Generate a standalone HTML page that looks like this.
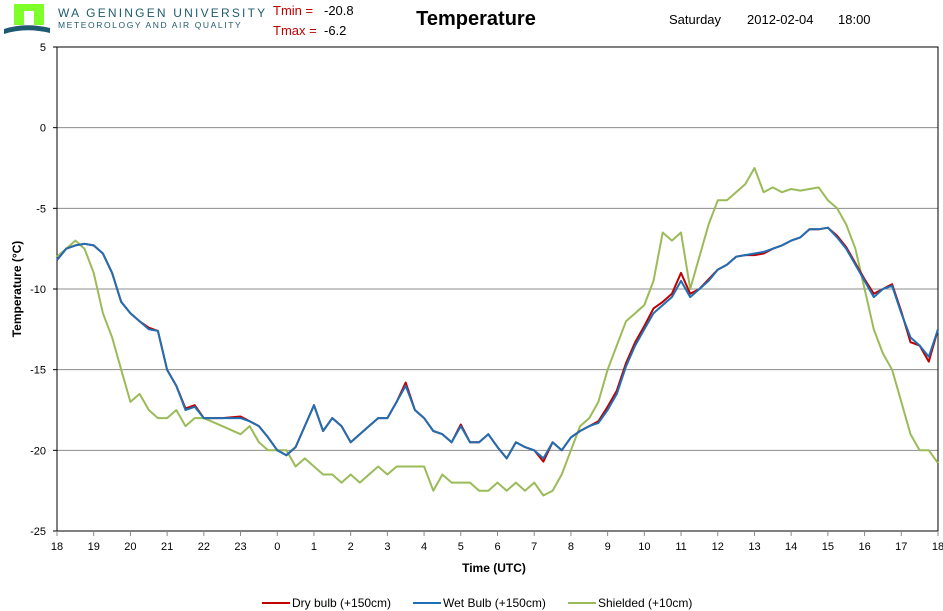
<!DOCTYPE html>
<html><head><meta charset="utf-8"><style>
body{margin:0;background:#fff;font-family:"Liberation Sans",sans-serif;}
#wrap{position:relative;width:943px;height:611px;overflow:hidden;}
</style></head><body>
<div id="wrap">
<svg id="chart" width="943" height="611" xmlns="http://www.w3.org/2000/svg">
<g>
<rect x="14" y="4" width="30" height="21" fill="#7fff2a"/>
<rect x="24" y="11" width="10" height="14" fill="#fff"/>
<path d="M4 29 Q25 22 50 28 L50 33 Q25 27 4 34 Z" fill="#1f5a70"/>
</g>
<text x="58" y="17" font-size="12" fill="#1f5a70" letter-spacing="2.2">WA GENINGEN UNIVERSITY</text>
<text x="58" y="28" font-size="8.5" fill="#1f5a70" letter-spacing="1.6">METEOROLOGY AND AIR QUALITY</text>
<text x="273" y="15" font-size="13" fill="#c00000">Tmin =</text>
<text x="324" y="15" font-size="13" fill="#000">-20.8</text>
<text x="273" y="35" font-size="13" fill="#c00000">Tmax =</text>
<text x="324" y="35" font-size="13" fill="#000">-6.2</text>
<text x="476" y="25" font-size="20" font-weight="bold" text-anchor="middle">Temperature</text>
<text x="669" y="24" font-size="13">Saturday</text>
<text x="747" y="24" font-size="13">2012-02-04</text>
<text x="838" y="24" font-size="13">18:00</text>
<g id="grid"></g><g id="axes"></g><g id="series"></g>
<text x="494" y="572" font-size="12" font-weight="bold" text-anchor="middle">Time (UTC)</text>
<text transform="translate(21,289) rotate(-90)" font-size="12" font-weight="bold" text-anchor="middle">Temperature (°C)</text>
<g>
<line x1="262" y1="603" x2="290" y2="603" stroke="#c00000" stroke-width="2"/>
<text x="292" y="607" font-size="12">Dry bulb (+150cm)</text>
<line x1="413" y1="603" x2="441" y2="603" stroke="#1f6fb4" stroke-width="2"/>
<text x="443" y="607" font-size="12">Wet Bulb (+150cm)</text>
<line x1="568" y1="603" x2="596" y2="603" stroke="#9bbb59" stroke-width="2"/>
<text x="598" y="607" font-size="12">Shielded (+10cm)</text>
</g>
</svg>
</div>
<script>
const xTickLabels=["18","19","20","21","22","23","0","1","2","3","4","5","6","7","8","9","10","11","12","13","14","15","16","17","18"];
const yTicks=[5,0,-5,-10,-15,-20,-25];
const times=[0,0.25,0.5,0.75,1,1.25,1.5,1.75,2,2.25,2.5,2.75,3,3.25,3.5,3.75,4,4.5,5,5.25,5.5,5.75,6,6.25,6.5,6.75,7,7.25,7.5,7.75,8,8.25,8.5,8.75,9,9.25,9.5,9.75,10,10.25,10.5,10.75,11,11.25,11.5,11.75,12,12.25,12.5,12.75,13,13.25,13.5,13.75,14,14.25,14.5,14.75,15,15.25,15.5,15.75,16,16.25,16.5,16.75,17,17.25,17.5,17.75,18,18.25,18.5,18.75,19,19.25,19.5,19.75,20,20.25,20.5,20.75,21,21.25,21.5,21.75,22,22.25,22.5,22.75,23,23.25,23.5,23.75,24];
const wetBulb=[-8.2,-7.5,-7.3,-7.2,-7.3,-7.8,-9.0,-10.8,-11.5,-12.0,-12.5,-12.6,-15.0,-16.0,-17.5,-17.3,-18.0,-18.0,-18.0,-18.2,-18.5,-19.2,-20.0,-20.3,-19.8,-18.5,-17.2,-18.8,-18.0,-18.5,-19.5,-19.0,-18.5,-18.0,-18.0,-17.0,-16.0,-17.5,-18.0,-18.8,-19.0,-19.5,-18.5,-19.5,-19.5,-19.0,-19.8,-20.5,-19.5,-19.8,-20.0,-20.5,-19.5,-20.0,-19.2,-18.8,-18.5,-18.3,-17.5,-16.5,-14.8,-13.5,-12.5,-11.5,-11.0,-10.5,-9.5,-10.5,-10.0,-9.5,-8.8,-8.5,-8.0,-7.9,-7.8,-7.7,-7.5,-7.3,-7.0,-6.8,-6.3,-6.3,-6.2,-6.8,-7.5,-8.5,-9.5,-10.5,-10.0,-9.8,-11.5,-13.0,-13.5,-14.2,-12.5];
const dryBulb=[-8.2,-7.5,-7.3,-7.2,-7.3,-7.8,-9.0,-10.8,-11.5,-12.0,-12.4,-12.6,-15.0,-16.0,-17.4,-17.2,-18.0,-18.0,-17.9,-18.2,-18.5,-19.2,-20.0,-20.3,-19.8,-18.5,-17.2,-18.8,-18.0,-18.5,-19.5,-19.0,-18.5,-18.0,-18.0,-17.0,-15.8,-17.5,-18.0,-18.8,-19.0,-19.5,-18.4,-19.5,-19.5,-19.0,-19.8,-20.5,-19.5,-19.8,-20.0,-20.7,-19.5,-20.0,-19.2,-18.8,-18.5,-18.2,-17.3,-16.3,-14.6,-13.3,-12.3,-11.2,-10.8,-10.3,-9.0,-10.3,-10.0,-9.4,-8.8,-8.5,-8.0,-7.9,-7.9,-7.8,-7.5,-7.3,-7.0,-6.8,-6.3,-6.3,-6.2,-6.7,-7.4,-8.4,-9.4,-10.3,-10.0,-9.7,-11.4,-13.3,-13.5,-14.5,-12.5];
const shielded=[-8.0,-7.5,-7.0,-7.5,-9.0,-11.5,-13.0,-15.0,-17.0,-16.5,-17.5,-18.0,-18.0,-17.5,-18.5,-18.0,-18.0,-18.5,-19.0,-18.5,-19.5,-20.0,-20.0,-20.0,-21.0,-20.5,-21.0,-21.5,-21.5,-22.0,-21.5,-22.0,-21.5,-21.0,-21.5,-21.0,-21.0,-21.0,-21.0,-22.5,-21.5,-22.0,-22.0,-22.0,-22.5,-22.5,-22.0,-22.5,-22.0,-22.5,-22.0,-22.8,-22.5,-21.5,-20.0,-18.5,-18.0,-17.0,-15.0,-13.5,-12.0,-11.5,-11.0,-9.5,-6.5,-7.0,-6.5,-10.0,-8.0,-6.0,-4.5,-4.5,-4.0,-3.5,-2.5,-4.0,-3.7,-4.0,-3.8,-3.9,-3.8,-3.7,-4.5,-5.0,-6.0,-7.5,-10.0,-12.5,-14.0,-15.0,-17.0,-19.0,-20.0,-20.0,-20.8];
const NS="http://www.w3.org/2000/svg";
const L=57,R=938,T=47,B=531;
const xs=t=>L+(R-L)*t/24;
const ys=v=>T+(B-T)*(5-v)/30;
function mk(tag,attrs,parent){const e=document.createElementNS(NS,tag);for(const k in attrs)e.setAttribute(k,attrs[k]);parent.appendChild(e);return e;}
const grid=document.getElementById('grid'),axes=document.getElementById('axes'),series=document.getElementById('series');
yTicks.forEach(v=>{
  if(v!==5&&v!==-25){const g=mk('line',{x1:L,x2:R,y1:ys(v),y2:ys(v),stroke:'#8c8c8c','stroke-width':1},grid);
  
  }
  const t=mk('text',{x:L-11,y:ys(v)+4,'font-size':11,'text-anchor':'end'},axes);t.textContent=v;
  
  
  mk('line',{x1:L-4,x2:L,y1:ys(v),y2:ys(v),stroke:'#000'},axes);
});
const fr=mk('rect',{x:L,y:T,width:R-L,height:B-T,fill:'none',stroke:'#000','stroke-width':1},axes);


xTickLabels.forEach((lab,i)=>{
  mk('line',{x1:xs(i),x2:xs(i),y1:B,y2:B+5,stroke:'#888'},axes);
  const t=mk('text',{x:xs(i),y:B+19,'font-size':11,'text-anchor':'middle'},axes);t.textContent=lab;
  
  
});
function line(vals,color,name){
  const d=vals.map((v,i)=>(i?'L':'M')+xs(times[i]).toFixed(1)+' '+ys(v).toFixed(1)).join(' ');
  const p=mk('path',{d:d,fill:'none',stroke:color,'stroke-width':2,'stroke-linejoin':'round'},series);
  
  
}
line(shielded,'#9bbb59','shielded-line');
line(dryBulb,'#c00000','dry-bulb-line');
line(wetBulb,'#1f6fb4','wet-bulb-line');
</script>
</body></html>
